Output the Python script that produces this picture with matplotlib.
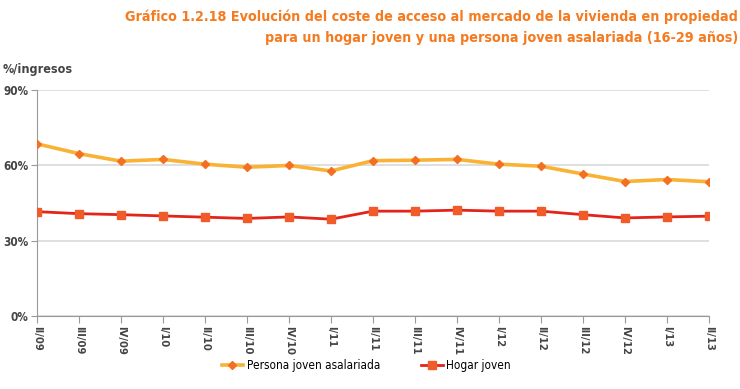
import matplotlib
matplotlib.use("Agg")
import matplotlib.pyplot as plt

# quarters on the x axis
quarters = ["II/09", "III/09", "IV/09", "I/10", "II/10", "III/10", "IV/10",
            "I/11", "II/11", "III/11", "IV/11", "I/12", "II/12", "III/12",
            "IV/12", "I/13", "II/13"]

# cost of access, % of income
persona_joven = [68.5, 64.6, 61.6, 62.3, 60.4, 59.2, 59.9, 57.7, 61.8, 62.0,
                 62.3, 60.4, 59.6, 56.5, 53.5, 54.3, 53.4]
hogar_joven = [41.5, 40.7, 40.3, 39.8, 39.3, 38.8, 39.4, 38.5, 41.7, 41.7,
               42.1, 41.7, 41.7, 40.3, 39.0, 39.4, 39.7]

y_ticks = [0, 30, 60, 90]

plt.rcParams["font.family"] = ["DejaVu Sans"]
plt.rcParams["font.stretch"] = "condensed"

fig = plt.figure(figsize=(7.4, 3.89), dpi=100)
ax = fig.add_axes([0.05, 0.188, 0.908, 0.581])

x = list(range(len(quarters)))
ax.plot(x, persona_joven, color="#f9b233", lw=2.6, marker="D", ms=4.5,
        mfc="#f36f21", mec="#f36f21", label="Persona joven asalariada", zorder=3)
ax.plot(x, hogar_joven, color="#e3241b", lw=2.0, marker="s", ms=6,
        mfc="#f15a29", mec="#f15a29", label="Hogar joven", zorder=3)

ax.set_xlim(0, len(quarters) - 1)
ax.set_ylim(0, 90)
ax.set_yticks(y_ticks)
ax.set_yticklabels([f"{v}%" for v in y_ticks], fontsize=8.5, color="#444444",
                   fontweight="bold")
ax.set_xticks(x)
ax.set_xticklabels(quarters, rotation=270, fontsize=8, color="#444444",
                   fontweight="bold")
ax.grid(axis="y", color="#d9d9d9", lw=1.2)
ax.set_axisbelow(True)
for s in ["top", "right"]:
	ax.spines[s].set_visible(False)
ax.spines["left"].set_color("#999999")
ax.spines["bottom"].set_color("#999999")
ax.tick_params(axis="y", length=4, color="#999999", pad=2)
ax.tick_params(axis="x", length=5, color="#999999", pad=2)

fig.text(0.997, 1 - 9 / 389,
         "Gráfico 1.2.18 Evolución del coste de acceso al mercado de la vivienda en propiedad\n"
         "para un hogar joven y una persona joven asalariada (16-29 años)",
         ha="right", va="top", color="#f47b20", fontsize=10.3, fontweight="bold",
         linespacing=1.65)
fig.text(0.003, 1 - 70 / 389, "%/ingresos", ha="left", va="center",
         fontsize=9, color="#444444", fontweight="bold")

fig.legend(loc="center", bbox_to_anchor=(0.495, 1 - 366 / 389), ncol=2,
           frameon=False, fontsize=8.5, handlelength=1.8, handletextpad=0.3,
           columnspacing=3.5)

fig.savefig("out.png", dpi=100)
